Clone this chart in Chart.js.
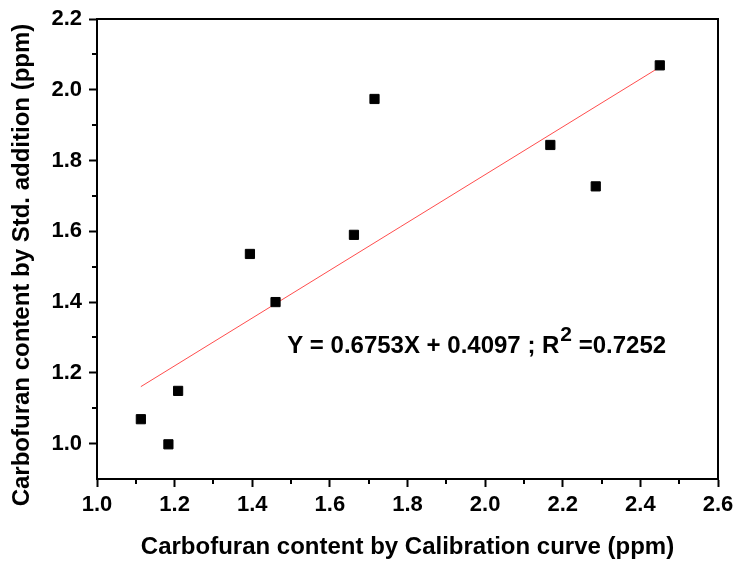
<!DOCTYPE html>
<html>
<head>
<meta charset="utf-8">
<script src="https://cdn.jsdelivr.net/npm/chart.js@4.4.1/dist/chart.umd.min.js"></script>
<style>
  html, body { margin: 0; padding: 0; background: #ffffff; }
  #wrap { width: 736px; height: 562px; position: relative; }
</style>
</head>
<body>
<div id="wrap"><canvas id="carbofuran-chart"></canvas></div>
<script>
// Carbofuran: calibration curve vs standard addition (ppm)
const calibrationPpm = [1.113, 1.184, 1.209, 1.394, 1.460, 1.662, 1.715, 2.168, 2.285, 2.450];
const stdAdditionPpm = [1.069, 0.998, 1.149, 1.536, 1.400, 1.590, 1.974, 1.844, 1.727, 2.069];

// ends of the fitted line, Y = 0.6753X + 0.4097
const fitX = [1.113, 2.450];
const fitY = [1.161, 2.064];

const xTicks = [1.0, 1.2, 1.4, 1.6, 1.8, 2.0, 2.2, 2.4, 2.6];
const yTicks = [1.0, 1.2, 1.4, 1.6, 1.8, 2.0, 2.2];
const xMinorTicks = [1.1, 1.3, 1.5, 1.7, 1.9, 2.1, 2.3, 2.5];
const yMinorTicks = [1.1, 1.3, 1.5, 1.7, 1.9, 2.1];

const xTitle = "Carbofuran content by Calibration curve (ppm)";
const yTitle = "Carbofuran content by Std. addition (ppm)";
const equationParts = ["Y = 0.6753X + 0.4097 ; R", "2", " =0.7252"];
const EQUATION_AT = { x: 1.49, y: 1.256 };

const FONT = "Arial, 'Liberation Sans', sans-serif";

// minor tick marks plus the top/right sides of the frame
const frameAndMinorTicks = {
  id: "frameAndMinorTicks",
  afterDraw(chart) {
    const { ctx, chartArea, scales } = chart;
    ctx.save();
    ctx.strokeStyle = "#000000";
    ctx.lineWidth = 2;
    ctx.beginPath();
    xMinorTicks.forEach((value) => {
      const px = Math.round(scales.x.getPixelForValue(value));
      ctx.moveTo(px, chartArea.bottom);
      ctx.lineTo(px, chartArea.bottom + 5);
    });
    yMinorTicks.forEach((value) => {
      const py = Math.round(scales.y.getPixelForValue(value));
      ctx.moveTo(chartArea.left, py);
      ctx.lineTo(chartArea.left - 5, py);
    });
    ctx.stroke();
    ctx.strokeRect(chartArea.left, chartArea.top, chartArea.width, chartArea.height);
    ctx.restore();
  },
};

// the y title sits a little below the middle of the axis in the original,
// which the built-in scale title can't do
const yAxisTitle = {
  id: "yAxisTitle",
  afterDraw(chart) {
    const { ctx, chartArea } = chart;
    ctx.save();
    ctx.translate(22, (chartArea.top + chartArea.bottom) / 2 + 16);
    ctx.rotate(-Math.PI / 2);
    ctx.fillStyle = "#000000";
    ctx.font = `bold 24px ${FONT}`;
    ctx.textAlign = "center";
    ctx.textBaseline = "middle";
    ctx.fillText(yTitle, 0, 0);
    ctx.restore();
  },
};

const equationLabel = {
  id: "equationLabel",
  afterDatasetsDraw(chart) {
    const { ctx, scales } = chart;
    let x = scales.x.getPixelForValue(EQUATION_AT.x);
    const y = scales.y.getPixelForValue(EQUATION_AT.y);
    ctx.save();
    ctx.fillStyle = "#000000";
    ctx.textBaseline = "alphabetic";
    ctx.textAlign = "left";
    ctx.font = `bold 24px ${FONT}`;
    ctx.fillText(equationParts[0], x, y);
    x += ctx.measureText(equationParts[0]).width + 1;
    ctx.font = `bold 21px ${FONT}`;
    ctx.fillText(equationParts[1], x, y - 12);
    x += ctx.measureText(equationParts[1]).width;
    ctx.font = `bold 24px ${FONT}`;
    ctx.fillText(equationParts[2], x, y);
    ctx.restore();
  },
};

const tickFont = { family: FONT, size: 22, weight: "bold" };

new Chart(document.getElementById("carbofuran-chart"), {
  type: "scatter",
  data: {
    datasets: [
      {
        label: "Samples",
        data: calibrationPpm.map((x, i) => ({ x, y: stdAdditionPpm[i] })),
        pointStyle: "rect",
        pointRadius: 6.5,
        pointHoverRadius: 6.5,
        backgroundColor: "#000000",
        borderColor: "#000000",
        borderWidth: 1,
      },
      {
        label: "Linear fit",
        data: fitX.map((x, i) => ({ x, y: fitY[i] })),
        showLine: true,
        pointRadius: 0,
        borderColor: "rgba(255, 0, 0, 0.7)",
        borderWidth: 1,
      },
    ],
  },
  options: {
    responsive: true,
    maintainAspectRatio: false,
    animation: false,
    events: [],
    layout: { padding: { top: 19, right: 18, left: 0, bottom: 0 } },
    scales: {
      x: {
        type: "linear",
        min: 1.0,
        max: 2.6,
        afterBuildTicks: (scale) => {
          scale.ticks = xTicks.map((value) => ({ value }));
        },
        afterFit: (scale) => {
          scale.height = 83;
          scale.paddingLeft = 0;
          scale.paddingRight = 0;
        },
        ticks: {
          autoSkip: false,
          maxRotation: 0,
          padding: 5,
          color: "#000000",
          font: tickFont,
          callback: (value) => Number(value).toFixed(1),
        },
        grid: {
          drawOnChartArea: false,
          tickLength: 8,
          tickWidth: 2,
          tickColor: "#000000",
        },
        border: { color: "#000000", width: 2 },
        title: {
          display: true,
          text: xTitle,
          color: "#000000",
          font: { family: FONT, size: 24, weight: "bold" },
          padding: { top: 0, bottom: 0 },
        },
      },
      y: {
        type: "linear",
        min: 0.9,
        max: 2.2,
        afterBuildTicks: (scale) => {
          scale.ticks = yTicks.map((value) => ({ value }));
        },
        afterFit: (scale) => {
          scale.width = 97;
          scale.paddingTop = 0;
          scale.paddingBottom = 0;
        },
        ticks: {
          autoSkip: false,
          padding: 7,
          color: "#000000",
          font: tickFont,
          callback: (value) => Number(value).toFixed(1),
        },
        grid: {
          drawOnChartArea: false,
          tickLength: 8,
          tickWidth: 2,
          tickColor: "#000000",
        },
        border: { color: "#000000", width: 2 },
      },
    },
    plugins: {
      legend: { display: false },
      tooltip: { enabled: false },
    },
  },
  plugins: [equationLabel, frameAndMinorTicks, yAxisTitle],
});
</script>
</body>
</html>
